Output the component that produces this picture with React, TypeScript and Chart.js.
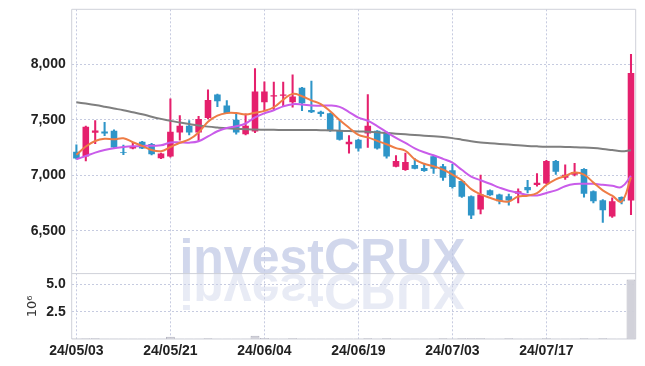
import { useEffect, useRef } from 'react';
import { Chart, registerables } from 'chart.js';

Chart.register(...registerables);

const dates = [
  '24/05/03', '24/05/07', '24/05/08', '24/05/09', '24/05/10', '24/05/13', '24/05/14', '24/05/16', '24/05/17', '24/05/20',
  '24/05/21', '24/05/22', '24/05/23', '24/05/24', '24/05/27', '24/05/28', '24/05/29', '24/05/30', '24/05/31', '24/06/03',
  '24/06/04', '24/06/05', '24/06/07', '24/06/10', '24/06/11', '24/06/12', '24/06/13', '24/06/14', '24/06/17', '24/06/18',
  '24/06/19', '24/06/20', '24/06/21', '24/06/24', '24/06/25', '24/06/26', '24/06/27', '24/06/28', '24/07/01', '24/07/02',
  '24/07/03', '24/07/04', '24/07/05', '24/07/08', '24/07/09', '24/07/10', '24/07/11', '24/07/12', '24/07/15', '24/07/16',
  '24/07/17', '24/07/18', '24/07/19', '24/07/22', '24/07/23', '24/07/24', '24/07/25', '24/07/26', '24/07/29', '24/07/30',
];

const openP = [
  7212, 7169, 7385, 7396, 7403, 7210, 7243, 7303, 7282, 7155,
  7169, 7388, 7448, 7388, 7518, 7730, 7630, 7502, 7370, 7397,
  7660, 7712, 7718, 7660, 7791, 7591, 7575, 7560, 7403, 7281,
  7321, 7378, 7403, 7388, 7078, 7048, 7094, 7066, 7172, 7081,
  7045, 6948, 6812, 6691, 6866, 6827, 6812, 6833, 6894, 6912,
  6927, 7130, 6978, 7006, 7057, 6857, 6775, 6627, 6803, 6772,
];
const highP = [
  7275, 7445, 7495, 7478, 7410, 7273, 7296, 7306, 7290, 7200,
  7691, 7539, 7494, 7533, 7772, 7733, 7675, 7560, 7555, 7964,
  7845, 7842, 7842, 7909, 7795, 7851, 7580, 7563, 7494, 7360,
  7325, 7730, 7405, 7392, 7178, 7200, 7151, 7100, 7175, 7100,
  7100, 6952, 6815, 7003, 6870, 6830, 6830, 6878, 6954, 7015,
  7135, 7135, 7094, 7109, 7060, 6860, 6780, 6797, 6806, 8094,
];
const lowP = [
  7145, 7130, 7285, 7358, 7245, 7187, 7238, 7240, 7185, 7150,
  7165, 7318, 7366, 7312, 7510, 7621, 7560, 7372, 7365, 7385,
  7585, 7585, 7630, 7615, 7585, 7565, 7533, 7396, 7318, 7200,
  7218, 7251, 7236, 7154, 7075, 7045, 7057, 7036, 7018, 6954,
  6885, 6800, 6609, 6651, 6818, 6742, 6730, 6751, 6842, 6903,
  6925, 7009, 6963, 6994, 6803, 6751, 6575, 6620, 6742, 6645,
];
const closeP = [
  7151, 7438, 7405, 7378, 7251, 7203, 7258, 7242, 7191, 7197,
  7394, 7448, 7388, 7509, 7681, 7669, 7563, 7387, 7448, 7757,
  7757, 7724, 7730, 7712, 7651, 7569, 7554, 7403, 7321, 7303,
  7242, 7448, 7242, 7169, 7130, 7121, 7060, 7039, 7060, 6978,
  6894, 6806, 6636, 6827, 6821, 6766, 6772, 6857, 6866, 6933,
  7130, 7033, 7006, 7030, 6833, 6766, 6685, 6766, 6766, 7924,
];

const ma5 = [
  7185, 7260, 7310, 7330, 7325, 7335, 7299, 7266, 7229, 7218,
  7256, 7294, 7324, 7387, 7484, 7539, 7562, 7562, 7550, 7565,
  7582, 7615, 7683, 7736, 7715, 7677, 7643, 7578, 7500, 7430,
  7365, 7343, 7311, 7281, 7246, 7222, 7144, 7104, 7082, 7052,
  7006, 6955, 6875, 6828, 6797, 6771, 6764, 6809, 6816, 6839,
  6912, 6964, 6994, 7026, 7006, 6934, 6864, 6816, 6763, 6981,
];
const ma10 = [
  7145, 7175, 7205, 7228, 7245, 7255, 7262, 7266, 7268, 7271,
  7296, 7297, 7295, 7308, 7351, 7398, 7428, 7443, 7468, 7524,
  7561, 7588, 7623, 7643, 7640, 7630, 7629, 7631, 7618, 7572,
  7521, 7493, 7445, 7390, 7338, 7293, 7244, 7208, 7181, 7149,
  7114, 7050, 6989, 6955, 6924, 6889, 6860, 6842, 6822, 6818,
  6841, 6864, 6901, 6921, 6923, 6923, 6914, 6905, 6895, 6994,
];
const maLong = [
  7660, 7648, 7635, 7620, 7604, 7588, 7570, 7552, 7530, 7510,
  7492, 7477, 7463, 7450, 7440, 7432, 7425, 7420, 7416, 7413,
  7412, 7411, 7410, 7410, 7410, 7409, 7408, 7406, 7403, 7400,
  7397, 7393, 7388, 7382, 7376, 7370, 7364, 7358, 7352, 7346,
  7336, 7322, 7308, 7297, 7290, 7284, 7278, 7272, 7266, 7262,
  7259, 7258, 7256, 7254, 7251, 7246, 7238, 7228, 7218, 7227,
];

const volume = [
  50000, 80000, 60000, 20000, 20000, 20000, 20000, 20000, 20000, 20000,
  200000, 20000, 20000, 20000, 60000, 20000, 20000, 20000, 20000, 300000,
  100000, 20000, 20000, 60000, 20000, 20000, 20000, 20000, 20000, 20000,
  20000, 60000, 20000, 60000, 20000, 20000, 20000, 20000, 20000, 60000,
  20000, 60000, 60000, 60000, 20000, 20000, 60000, 20000, 20000, 20000,
  60000, 20000, 20000, 20000, 60000, 20000, 60000, 20000, 20000, 5460000,
];

const priceTicks = [6500, 7000, 7500, 8000];
const volumeTicks = [2500000, 5000000];
const tickEvery = 10;

const UP = '#e5206d';
const DOWN = '#2e95c8';
const GRID = '#c6cbe0';
const FRAME = '#cfd1d9';
const TICK_FONT = { family: "'Liberation Sans', Arial, sans-serif", size: 14, weight: 'bold' as const };

const framePlugin = {
  id: 'frameWatermark',
  beforeDatasetsDraw(chart: any) {
    const { ctx, chartArea: a, scales } = chart;
    const base = scales.yv.top;
    const cx = chart.width / 2;
    ctx.save();
    ctx.font = "bold 50px 'Liberation Sans', Arial, sans-serif";
    ctx.textAlign = 'center';
    ctx.textBaseline = 'alphabetic';
    ctx.fillStyle = 'rgba(190,198,228,0.7)';
    ctx.fillText('investCRUX', cx, base);
    ctx.translate(0, base * 2);
    ctx.scale(1, -1);
    ctx.fillStyle = 'rgba(205,210,232,0.45)';
    ctx.fillText('investCRUX', cx, base);
    ctx.restore();

    ctx.save();
    ctx.strokeStyle = FRAME;
    ctx.lineWidth = 1;
    ctx.beginPath();
    ctx.rect(a.left, a.top, a.right - a.left, a.bottom - a.top);
    ctx.moveTo(a.left, base);
    ctx.lineTo(a.right, base);
    ctx.stroke();
    ctx.restore();
  },
};

const fitLeft = (s: any) => {
  s.width = 63.7;
  s.paddingTop = 0;
  s.paddingBottom = 0;
};

export default function App() {
  const ref = useRef<HTMLCanvasElement>(null);

  useEffect(() => {
    if (!ref.current) return;
    const up = closeP.map((c, i) => c >= openP[i]);
    const colors = up.map((u) => (u ? UP : DOWN));
    const chart = new Chart(ref.current, {
      type: 'bar',
      data: {
        labels: dates,
        datasets: [
          {
            type: 'line',
            data: ma5,
            yAxisID: 'y',
            borderColor: '#ee7c45',
            borderWidth: 2,
            pointRadius: 0,
            tension: 0.4,
            order: 0,
          } as any,
          {
            type: 'line',
            data: ma10,
            yAxisID: 'y',
            borderColor: '#c95cea',
            borderWidth: 2,
            pointRadius: 0,
            tension: 0.4,
            order: 0,
          } as any,
          {
            type: 'line',
            data: maLong,
            yAxisID: 'y',
            borderColor: '#7f7f7f',
            borderWidth: 2,
            pointRadius: 0,
            tension: 0.4,
            order: 0,
          } as any,
          {
            type: 'bar',
            data: openP.map((o, i) => [o, closeP[i]]),
            yAxisID: 'y',
            backgroundColor: colors,
            barPercentage: 0.7,
            categoryPercentage: 1,
            grouped: false,
            order: 1,
          } as any,
          {
            type: 'bar',
            data: lowP.map((l, i) => [l, highP[i]]),
            yAxisID: 'y',
            backgroundColor: colors,
            barThickness: 1.4,
            grouped: false,
            order: 2,
          } as any,
          {
            type: 'bar',
            data: volume,
            yAxisID: 'yv',
            backgroundColor: 'rgba(208,208,216,0.95)',
            borderColor: 'rgba(180,180,192,1)',
            borderWidth: 1,
            barPercentage: 0.95,
            categoryPercentage: 1,
            grouped: false,
            order: 3,
          } as any,
        ],
      },
      options: {
        responsive: false,
        animation: false,
        devicePixelRatio: 1,
        layout: { padding: { top: 1.3, right: 1.3, bottom: 2.2, left: 0 } },
        plugins: { legend: { display: false }, tooltip: { enabled: false } },
        scales: {
          x: {
            type: 'category',
            offset: true,
            afterBuildTicks: (s: any) => {
              s.ticks = s.ticks.filter((t: any) => t.value % tickEvery === 0);
            },
            grid: { color: GRID, offset: false, drawTicks: false, lineWidth: 1 },
            border: { display: false, dash: [2, 2] },
            ticks: { autoSkip: false, maxRotation: 0, padding: 4, color: '#222', font: TICK_FONT },
          },
          yv: {
            type: 'linear',
            position: 'left',
            stack: 'panels',
            stackWeight: 65,
            min: 0,
            max: 6000000,
            afterBuildTicks: (s: any) => {
              s.ticks = volumeTicks.map((v) => ({ value: v }));
            },
            afterFit: fitLeft,
            grid: { color: GRID, drawTicks: false },
            border: { display: false, dash: [2, 2] },
            ticks: {
              padding: 6,
              color: '#222',
              font: TICK_FONT,
              callback: (v: any) => (Number(v) / 1e6).toFixed(1),
            },
            title: {
              display: true,
              text: '10⁶',
              color: '#333',
              font: { family: "'DejaVu Sans', sans-serif", size: 13, weight: 'normal' },
              padding: { top: 17, bottom: 0 },
            },
          },
          y: {
            type: 'linear',
            position: 'left',
            stack: 'panels',
            stackWeight: 262.7,
            min: 6112,
            max: 8500,
            afterBuildTicks: (s: any) => {
              s.ticks = priceTicks.map((v) => ({ value: v }));
            },
            afterFit: fitLeft,
            grid: { color: GRID, drawTicks: false },
            border: { display: false, dash: [2, 2] },
            ticks: {
              padding: 6,
              color: '#222',
              font: TICK_FONT,
              callback: (v: any) => Number(v).toLocaleString('en-US'),
            },
          },
        },
      } as any,
      plugins: [framePlugin],
    });
    return () => chart.destroy();
  }, []);

  return (
    <div style={{ width: 629, height: 358 }}>
      <canvas ref={ref} width={629} height={358} />
    </div>
  );
}
